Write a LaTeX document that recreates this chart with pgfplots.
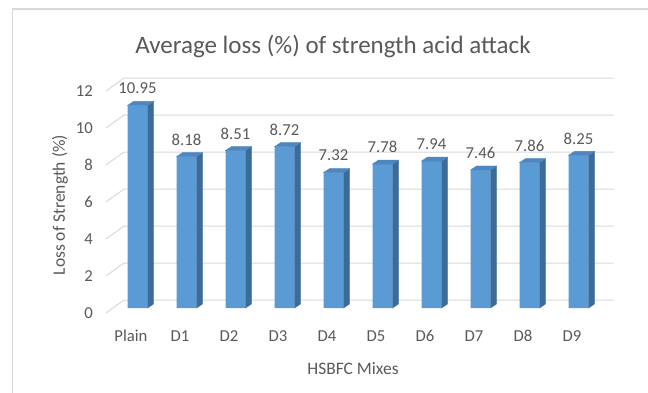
\documentclass[border=0pt]{standalone}
\usepackage{pgfplots}
\pgfplotsset{compat=1.18}
\usepackage{pgfplotstable}
\usepackage{fontspec}
\setmainfont{Carlito}
\definecolor{txt}{HTML}{595959}
\definecolor{gridc}{HTML}{D9D9D9}
\definecolor{front}{HTML}{5B9BD5}
\definecolor{side}{HTML}{3B6C99}
\definecolor{topc}{HTML}{4E87C0}
\pgfdeclareplotmark{none3d}{}
\pgfplotstableread{
x val
0 10.95
1 8.18
2 8.51
3 8.72
4 7.32
5 7.78
6 7.94
7 7.46
8 7.86
9 8.25
}\lossdata
\begin{document}
\begin{tikzpicture}
\path[use as bounding box] (0,0) rectangle (648bp,-393bp);
\draw[gridc, line width=1.5bp] (12.5bp,-393bp) -- (12.5bp,-9bp) -- (648bp,-9bp);
\node[text=txt, font=\fontsize{25bp}{29bp}\selectfont] at (333bp,-47bp) {Average loss (\%) of strength acid attack};
\node[text=txt, font=\fontsize{17.5bp}{21bp}\selectfont] at (353bp,-369bp) {HSBFC Mixes};
\node[text=txt, font=\fontsize{17.5bp}{21bp}\selectfont, rotate=90] at (60bp,-205bp) {Loss of Strength (\%)};
\begin{axis}[
  at={(113bp,-308bp)}, anchor=south west,
  scale only axis, width=490bp, height=222bp,
  xmin=-0.5, xmax=9.5, ymin=0, ymax=12,
  axis line style={draw=none},
  major tick length=0pt,
  xtick={0,...,9},
  xticklabels={Plain,D1,D2,D3,D4,D5,D6,D7,D8,D9},
  ytick={0,2,...,12},
  /pgf/number format/assume math mode=true,
  ticklabel style={font=\fontsize{16.7bp}{19bp}\selectfont, text=txt},
  xticklabel style={anchor=center, yshift=-28bp, xshift=-6.5bp},
  yticklabel style={anchor=east, inner sep=0pt, xshift=-20bp, yshift=-5bp},
  clip=false,
]
\pgfplotsinvokeforeach{0,2,4,6,8,10,12}{
  \draw[gridc, line width=1bp] ([shift={(-7bp,-5bp)}]axis cs:-0.5,#1) -- ([shift={(11bp,8bp)}]axis cs:-0.5,#1) -- ([shift={(11bp,8bp)}]axis cs:9.5,#1);
}
\addplot[ybar, bar width=20bp, bar shift=0pt, fill=front, draw=none,
  nodes near coords={\pgfmathprintnumber[fixed,fixed zerofill,precision=2]{\pgfplotspointmeta}},
  every node near coord/.append style={font=\fontsize{16.7bp}{19bp}\selectfont, text=txt, anchor=center, yshift=17bp},
] table[x=x,y=val] {\lossdata};
\addplot[scatter, only marks, mark=none3d,
  visualization depends on={\thisrow{val} \as \bv},
  scatter/@pre marker code/.code={%
    \fill[side] (10bp,0pt) -- (16bp,4bp) -- (16bp,{4bp-\bv*18.5bp}) -- (10bp,{-\bv*18.5bp}) -- cycle;
    \fill[topc] (-10bp,0pt) -- (-4bp,4bp) -- (16bp,4bp) -- (10bp,0pt) -- cycle;
  },
  scatter/@post marker code/.code={},
] table[x=x,y=val] {\lossdata};
\end{axis}
\end{tikzpicture}
\end{document}
